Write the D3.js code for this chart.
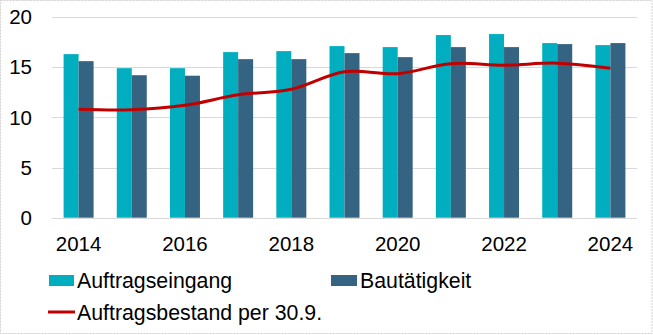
<!DOCTYPE html>
<html><head><meta charset="utf-8">
<script src="https://cdn.jsdelivr.net/npm/d3@7/dist/d3.min.js"></script>
<style>html,body{margin:0;padding:0;background:#fff;}svg{display:block;font-family:"Liberation Sans",Arial,sans-serif;}</style>
</head><body><svg id="c" width="653" height="335"></svg>
<script>
const years = [2014,2015,2016,2017,2018,2019,2020,2021,2022,2023,2024];
const auftragseingang = [16.3,14.9,14.9,16.5,16.6,17.1,17.0,18.2,18.3,17.4,17.2];
const bautaetigkeit   = [15.6,14.2,14.15,15.8,15.8,16.4,16.0,17.0,17.0,17.3,17.4];
const auftragsbestand = [10.8,10.75,11.2,12.25,12.8,14.55,14.35,15.35,15.2,15.4,14.9];
const yTicks = [0,5,10,15,20];
const xTickLabels = [2014,2016,2018,2020,2022,2024];
const seriesNames = ["Auftragseingang","Bautätigkeit","Auftragsbestand per 30.9."];
const colors = ["#00AEBF","#356482","#C00000"];

const svg = d3.select("#c");
svg.append("rect").attr("x",0.5).attr("y",0.5).attr("width",651.5).attr("height",333)
  .attr("fill","#fff").attr("stroke","#d0d0d0").attr("stroke-dasharray","2,1");

const x = d3.scaleBand().domain(years).range([52,637]).paddingInner(0.436).paddingOuter(0.218);
const y = d3.scaleLinear().domain([0,20]).range([217.7,17]);
const inner = d3.scaleBand().domain([0,1]).range([0,x.bandwidth()]);

// grid
svg.append("g").selectAll("line").data(yTicks).join("line")
  .attr("x1",52).attr("x2",637).attr("y1",d=>Math.round(y(d))+0.5).attr("y2",d=>Math.round(y(d))+0.5)
  .attr("stroke","#d9d9d9").attr("stroke-width",1);

// y labels
svg.append("g").selectAll("text").data(yTicks).join("text")
  .attr("x",32).attr("y",d=>y(d)).attr("dy","0.35em").attr("text-anchor","end")
  .attr("font-size","20.5px").attr("fill","#000").text(d=>d);

// bars
const groups = svg.append("g").selectAll("g").data(years).join("g")
  .attr("transform",d=>`translate(${x(d)},0)`);
groups.append("rect").attr("x",inner(0)).attr("width",inner.bandwidth())
  .attr("y",(d,i)=>y(auftragseingang[i])).attr("height",(d,i)=>y(0)-y(auftragseingang[i])).attr("fill",colors[0]);
groups.append("rect").attr("x",inner(1)).attr("width",inner.bandwidth())
  .attr("y",(d,i)=>y(bautaetigkeit[i])).attr("height",(d,i)=>y(0)-y(bautaetigkeit[i])).attr("fill",colors[1]);

// line
const line = d3.line().x((d,i)=>x(years[i])+x.bandwidth()/2).y(d=>y(d)).curve(d3.curveCatmullRom.alpha(0.5));
svg.append("path").attr("d",line(auftragsbestand)).attr("fill","none")
  .attr("stroke",colors[2]).attr("stroke-width",3).attr("stroke-linejoin","round");

// x labels
svg.append("g").selectAll("text").data(xTickLabels).join("text")
  .attr("x",d=>x(d)+x.bandwidth()/2).attr("y",251).attr("text-anchor","middle")
  .attr("font-size","20.5px").attr("fill","#000").text(d=>d);

// legend
const lg = svg.append("g").attr("font-size","21.3px");
lg.append("rect").attr("x",49).attr("y",275).attr("width",25).attr("height",11).attr("fill",colors[0]);
lg.append("text").attr("x",77).attr("y",288).text(seriesNames[0]);
lg.append("rect").attr("x",331).attr("y",275).attr("width",26).attr("height",11).attr("fill",colors[1]);
lg.append("text").attr("x",360).attr("y",288).text(seriesNames[1]);
lg.append("line").attr("x1",48).attr("x2",75).attr("y1",312).attr("y2",312).attr("stroke",colors[2]).attr("stroke-width",3);
lg.append("text").attr("x",77).attr("y",319.5).text(seriesNames[2]);
</script></body></html>
